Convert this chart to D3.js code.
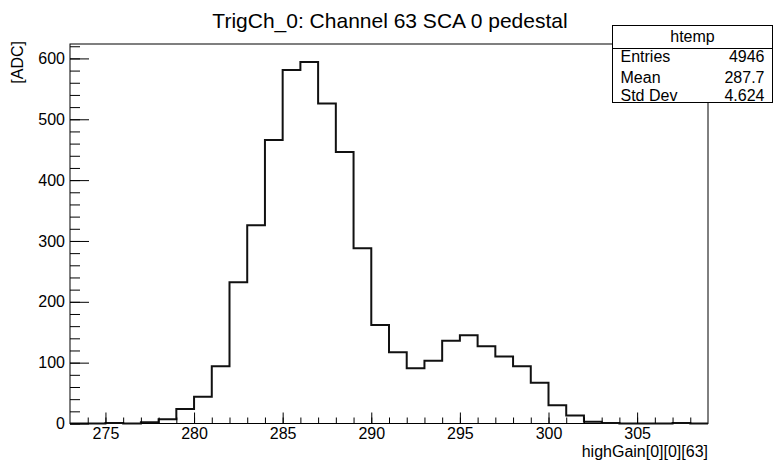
<!DOCTYPE html>
<html>
<head>
<meta charset="utf-8">
<script src="https://cdn.jsdelivr.net/npm/d3@7"></script>
<style>
	body{margin:0;background:#fff;}
	svg{display:block;font-family:"Liberation Sans",Arial,sans-serif;}
</style>
</head>
<body>
<svg id="chart" width="782" height="463"></svg>
<script>
// histogram bins, width 1, first low edge at 273
const binStart = 273;
const binCounts = [0,0,1,0,2,7,24,44,94,232,326,466,581,594,526,446,288,162,117,91,
	103,136,145,127,110,94,67,30,13,3,1,0,0,0,1,0];
const xMajorTicks = [275,280,285,290,295,300,305];
const yMajorTicks = [0,100,200,300,400,500,600];
const statLabels = ['Entries','Mean','Std Dev'];
const statValues = ['4946','287.7','4.624'];

const svg = d3.select('#chart');
const frame = {left:70,right:708,top:44,bottom:423.5};

const xScale = d3.scaleLinear()
	.domain([binStart,binStart+binCounts.length])
	.range([frame.left,frame.right]);
const yScale = d3.scaleLinear()
	.domain([0,d3.max(binCounts)*1.05])
	.range([frame.bottom,frame.top]);

// title
svg.append('text')
	.attr('x',390)
	.attr('y',28)
	.attr('text-anchor','middle')
	.style('font-size','21px')
	.text('TrigCh_0: Channel 63 SCA 0 pedestal');

// frame
svg.append('rect')
	.attr('x',frame.left)
	.attr('y',frame.top)
	.attr('width',frame.right-frame.left)
	.attr('height',frame.bottom-frame.top)
	.attr('fill','none')
	.attr('stroke','#000')
	.attr('stroke-width',1);

// histogram outline
const pts = binCounts.map((c,i)=>[binStart+i,c]);
pts.push([binStart+binCounts.length,binCounts[binCounts.length-1]]);
const line = d3.line()
	.x(d=>xScale(d[0]))
	.y(d=>yScale(d[1]))
	.curve(d3.curveStepAfter);
svg.append('path')
	.attr('d',line(pts))
	.attr('fill','none')
	.attr('stroke','#111')
	.attr('stroke-width',2);

// y axis
const yMinor = d3.range(0,621,20);
svg.append('g')
	.attr('transform','translate('+frame.left+',0)')
	.call(d3.axisLeft(yScale).tickValues(yMinor).tickSize(-10).tickFormat(''))
	.call(g=>g.select('.domain').remove());
svg.append('g')
	.attr('transform','translate('+frame.left+',0)')
	.call(d3.axisLeft(yScale).tickValues(yMajorTicks).tickSize(-19).tickPadding(5))
	.call(g=>g.select('.domain').remove())
	.call(g=>g.selectAll('text').style('font-size','16px').attr('fill','#000'));

// x axis
const xMinor = d3.range(274,309,1);
svg.append('g')
	.attr('transform','translate(0,'+frame.bottom+')')
	.call(d3.axisBottom(xScale).tickValues(xMinor).tickSize(-6).tickFormat(''))
	.call(g=>g.select('.domain').remove());
svg.append('g')
	.attr('transform','translate(0,'+frame.bottom+')')
	.call(d3.axisBottom(xScale).tickValues(xMajorTicks).tickSize(-11).tickPadding(4))
	.call(g=>g.select('.domain').remove())
	.call(g=>g.selectAll('text').style('font-size','16px').attr('fill','#000'));

// axis titles
svg.append('text')
	.attr('x',frame.right)
	.attr('y',457)
	.attr('text-anchor','end')
	.style('font-size','16px')
	.text('highGain[0][0][63]');
svg.append('text')
	.attr('transform','translate(23,41) rotate(-90)')
	.attr('text-anchor','end')
	.style('font-size','16px')
	.text('[ADC]');

// stats box
const box = {x:612.5,y:25.5,w:160,h:77,head:23};
const rowBase = [62,82.5,101];
const stats = svg.append('g');
stats.append('rect')
	.attr('x',box.x).attr('y',box.y)
	.attr('width',box.w).attr('height',box.h)
	.attr('fill','#fff').attr('stroke','#000');
stats.append('line')
	.attr('x1',box.x).attr('x2',box.x+box.w)
	.attr('y1',box.y+box.head).attr('y2',box.y+box.head)
	.attr('stroke','#000');
stats.append('text')
	.attr('x',box.x+box.w/2)
	.attr('y',box.y+16.5)
	.attr('text-anchor','middle')
	.style('font-size','16px')
	.text('htemp');
stats.selectAll('text.lbl')
	.data(statLabels)
	.join('text')
		.classed('lbl',true)
		.attr('x',box.x+8)
		.attr('y',(d,i)=>rowBase[i])
		.style('font-size','16px')
		.text(d=>d);
stats.selectAll('text.val')
	.data(statValues)
	.join('text')
		.classed('val',true)
		.attr('x',box.x+box.w-8)
		.attr('y',(d,i)=>rowBase[i])
		.attr('text-anchor','end')
		.style('font-size','16px')
		.text(d=>d);
</script>
</body>
</html>
